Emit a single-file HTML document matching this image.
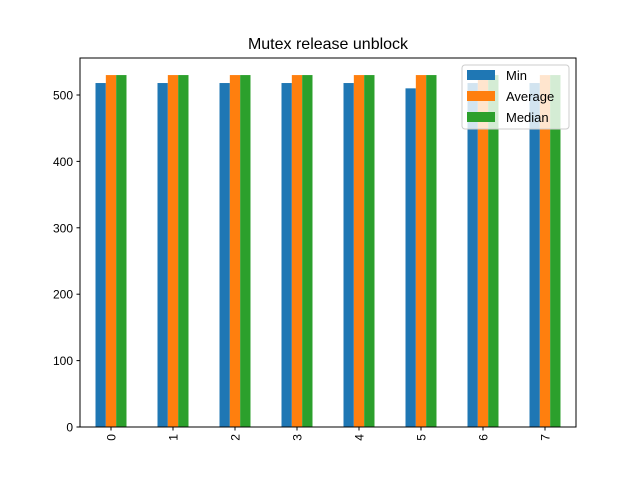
<!DOCTYPE html>
<html><head><style>body{margin:0;background:#fff}svg{font-family:"Liberation Sans","DejaVu Sans",sans-serif}</style></head>
<body>
<svg id="c" width="640" height="480" xmlns="http://www.w3.org/2000/svg">
<rect width="640" height="480" fill="#fff"/>
<text x="328" y="49" text-anchor="middle" font-size="16">Mutex release unblock</text>
<g id="bars"></g>
<g id="axes"></g>
</svg>
<script>
const categories = ["0","1","2","3","4","5","6","7"];
const minVals = [518,518,518,518,518,510,518,518];
const avgVals = [530,530,530,530,530,530,530,530];
const medVals = [530,530,530,530,530,530,530,530];
const yTicks = [0,100,200,300,400,500];
const seriesNames = ["Min","Average","Median"];
const colors = ["#1f77b4","#ff7f0e","#2ca02c"];

const L=80,R=576,T=58,B=427,yMax=555.7;
const ns="http://www.w3.org/2000/svg";
const y=v=>B-(v/yMax)*(B-T);
const step=(R-L)/categories.length;
const xc=i=>L+step*(i+0.5);
const bw=step/6;
const bars=document.getElementById('bars'),axes=document.getElementById('axes');
function mk(tag,attrs,parent){const e=document.createElementNS(ns,tag);for(const k in attrs)e.setAttribute(k,attrs[k]);parent.appendChild(e);return e;}
[minVals,avgVals,medVals].forEach((vals,s)=>{
  vals.forEach((v,i)=>{
    const r=mk('rect',{x:xc(i)+(s-1.5)*bw,y:y(v),width:bw,height:B-y(v),fill:colors[s]},bars);
    
    
  });
});
const frame=mk('rect',{x:L,y:T,width:R-L,height:B-T,fill:'none',stroke:'#000','stroke-width':1},axes);


yTicks.forEach(t=>{
  mk('line',{x1:L-3.5,x2:L,y1:y(t),y2:y(t),stroke:'#000'},axes);
  const tx=mk('text',{x:L-7,y:y(t)+4.5,'text-anchor':'end','font-size':12},axes);
  tx.textContent=t;
  
  
});
categories.forEach((c,i)=>{
  mk('line',{x1:xc(i),x2:xc(i),y1:B,y2:B+3.5,stroke:'#000'},axes);
  const tx=mk('text',{x:0,y:0,'font-size':12,'text-anchor':'end',transform:`translate(${xc(i)+4.5},${B+7}) rotate(-90)`},axes);
  tx.textContent=c;
  
  
});
const lg=mk('g',{},axes);


mk('rect',{x:462,y:65,width:107,height:64,rx:3,fill:'#fff','fill-opacity':0.8,stroke:'#ccc'},lg);
seriesNames.forEach((n,s)=>{
  const yy=70+s*21;
  mk('rect',{x:467,y:yy,width:28,height:10,fill:colors[s]},lg);
  const t=mk('text',{x:506,y:yy+10,'font-size':13},lg);
  t.textContent=n;
  
  
});
</script>
</body></html>
